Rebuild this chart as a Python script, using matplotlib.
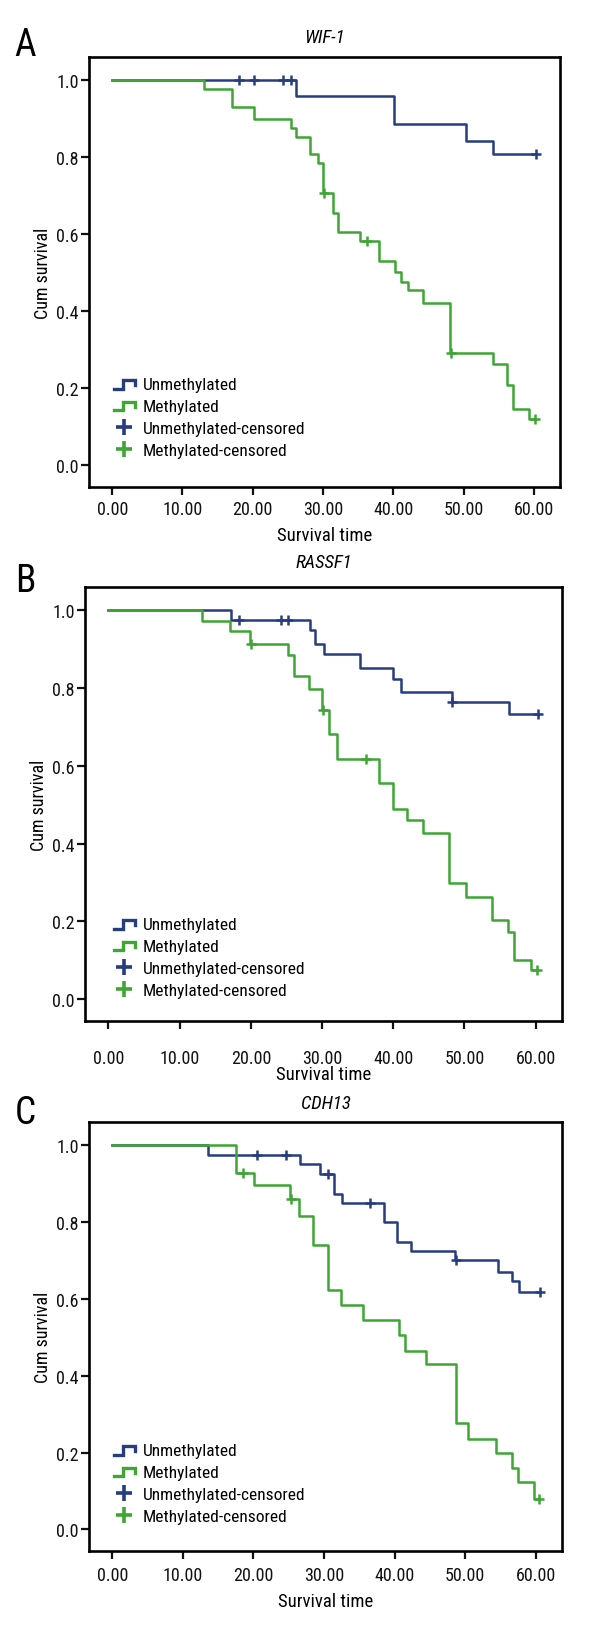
"""Kaplan-Meier survival curves for WIF-1, RASSF1 and CDH13 methylation."""

import matplotlib

matplotlib.use("Agg")

import matplotlib.pyplot as plt
import numpy as np
from matplotlib import font_manager
from matplotlib.legend_handler import HandlerBase
from matplotlib.lines import Line2D

BLUE = "#283c80"
GREEN = "#3fa535"

# ---- data (time in months, cumulative survival) ----
PANELS = ["A", "B", "C"]
GENES = ["WIF-1", "RASSF1", "CDH13"]
X_TICKS = [0, 10, 20, 30, 40, 50, 60]
Y_TICKS = [0.0, 0.2, 0.4, 0.6, 0.8, 1.0]
LEGEND_LABELS = ["Unmethylated", "Methylated",
                 "Unmethylated-censored", "Methylated-censored"]

A_UNMETH_T = [26.2, 40.1, 50.3, 54.2]
A_UNMETH_S = [0.959, 0.885, 0.843, 0.807]
A_UNMETH_CENS = [18.1, 20.2, 24.3, 25.4, 60.3]
A_METH_T = [13.1, 17.0, 20.2, 25.4, 26.1, 28.1, 29.3, 30.0, 31.4, 32.1, 35.2,
            38.0, 40.2, 41.1, 42.1, 44.2, 48.1, 54.2, 56.2, 57.0, 59.3]
A_METH_S = [0.977, 0.929, 0.899, 0.875, 0.852, 0.809, 0.785, 0.707, 0.656,
            0.606, 0.582, 0.530, 0.503, 0.477, 0.454, 0.421, 0.292, 0.264,
            0.209, 0.147, 0.120]
A_METH_CENS = [30.1, 36.2, 48.2, 60.1]

B_UNMETH_T = [17.2, 28.3, 29.0, 30.2, 35.3, 40.0, 41.1, 48.2, 56.2]
B_UNMETH_S = [0.974, 0.949, 0.914, 0.887, 0.851, 0.823, 0.791, 0.764, 0.734]
B_UNMETH_CENS = [18.3, 24.3, 25.2, 48.3, 60.3]
B_METH_T = [13.2, 17.1, 19.9, 25.2, 26.1, 28.2, 30.0, 31.0, 32.1, 38.0, 39.9,
            41.9, 44.2, 47.8, 50.2, 53.9, 56.1, 57.0, 59.3]
B_METH_S = [0.972, 0.946, 0.914, 0.885, 0.831, 0.797, 0.745, 0.683, 0.617,
            0.557, 0.489, 0.460, 0.427, 0.298, 0.264, 0.204, 0.174, 0.100,
            0.074]
B_METH_CENS = [20.0, 30.1, 36.2, 60.2]

C_UNMETH_T = [13.5, 26.6, 29.4, 31.4, 32.5, 38.5, 40.3, 42.3, 48.6, 54.6,
              56.6, 57.6]
C_UNMETH_S = [0.974, 0.950, 0.924, 0.872, 0.849, 0.799, 0.747, 0.724, 0.700,
              0.671, 0.647, 0.619]
C_UNMETH_CENS = [20.5, 24.6, 30.5, 36.5, 48.7, 60.6]
C_METH_T = [17.5, 20.1, 25.2, 26.4, 28.4, 30.6, 32.4, 35.5, 40.6, 41.5, 44.5,
            48.7, 50.4, 54.4, 56.6, 57.4, 59.7]
C_METH_S = [0.927, 0.897, 0.860, 0.815, 0.739, 0.622, 0.584, 0.546, 0.506,
            0.464, 0.431, 0.278, 0.235, 0.198, 0.160, 0.123, 0.078]
C_METH_CENS = [18.5, 25.3, 60.4]


def _pick_font():
    fonts = font_manager.fontManager.ttflist
    names = {f.name for f in fonts}
    for n in ["Roboto Condensed", "Liberation Sans Narrow", "Open Sans Condensed",
              "Noto Sans Condensed", "DejaVu Sans Condensed"]:
        if n in names:
            return n, "normal"
    for fam in ["Noto Sans", "Open Sans", "Roboto", "DejaVu Sans"]:
        for f in fonts:
            if f.name == fam and f.stretch in ("condensed", "semi-condensed",
                                                "extra-condensed"):
                return fam, f.stretch
    return "DejaVu Sans", "normal"


FONT, STRETCH = _pick_font()
plt.rcParams["font.family"] = FONT
plt.rcParams["font.stretch"] = STRETCH


class StepHandler(HandlerBase):
    """Legend icon drawn as a small step, like SPSS survival plots."""

    def create_artists(self, legend, orig_handle, xdescent, ydescent, width,
                       height, fontsize, trans):
        x0, y0 = -xdescent, -ydescent
        xs = [x0, x0 + 0.45 * width, x0 + 0.45 * width, x0 + width, x0 + width]
        ys = [y0 + 0.05 * height, y0 + 0.05 * height, y0 + 0.75 * height,
              y0 + 0.75 * height, y0 + 0.35 * height]
        line = Line2D(xs, ys, color=orig_handle.get_color(), lw=2.4,
                      solid_joinstyle="miter", transform=trans)
        return [line]


def _km(ax, drop_t, drop_s, cens_t, color, z):
    drop_t = np.asarray(drop_t)
    drop_s = np.asarray(drop_s)
    cens_t = np.asarray(cens_t)
    t = np.concatenate([[0.0], drop_t, [cens_t.max()]])
    s = np.concatenate([[1.0], drop_s, [drop_s[-1]]])
    ax.step(t, s, where="post", color=color, lw=1.8, zorder=z)
    level = np.concatenate([[1.0], drop_s])[np.searchsorted(drop_t, cens_t,
                                                            side="right")]
    ax.plot(cens_t, level, "+", color=color, ms=7, mew=1.8, zorder=z)


# pixel layout of the three panels (left, top, right, bottom)
BOXES = [(89, 58, 560, 488), (85, 588, 562, 1022), (89, 1123, 562, 1552)]
XTICK_PAD = [4, 15, 5]
XLABEL_Y = [536, 1075, 1602]
TITLE_Y = [38, 563, 1104]
LETTER_Y = [46, 581, 1113]
LEGEND_TOP = [378, 918, 1444]
W, H = 600, 1640

fig = plt.figure(figsize=(W / 100, H / 100), dpi=100)
fig.patch.set_facecolor("white")

series = [
    (A_UNMETH_T, A_UNMETH_S, A_UNMETH_CENS, A_METH_T, A_METH_S, A_METH_CENS),
    (B_UNMETH_T, B_UNMETH_S, B_UNMETH_CENS, B_METH_T, B_METH_S, B_METH_CENS),
    (C_UNMETH_T, C_UNMETH_S, C_UNMETH_CENS, C_METH_T, C_METH_S, C_METH_CENS),
]

for i, (ut, us, uc, mt, ms, mc) in enumerate(series):
    l, t, r, b = BOXES[i]
    ax = fig.add_axes([l / W, 1 - b / H, (r - l) / W, (b - t) / H])
    _km(ax, ut, us, uc, BLUE, 2)
    _km(ax, mt, ms, mc, GREEN, 3)

    ax.set_xlim(-3.3, 63.7)
    ax.set_ylim(-0.056, 1.06)
    ax.set_xticks(X_TICKS)
    ax.set_xticklabels([f"{v:.2f}" for v in X_TICKS])
    ax.set_yticks(Y_TICKS)
    ax.set_yticklabels([f"{v:.1f}" for v in Y_TICKS])
    for sp in ax.spines.values():
        sp.set_linewidth(1.9)
    ax.tick_params(axis="both", direction="out", length=5.5, width=1.6,
                   labelsize=13, colors="#111111")
    ax.tick_params(axis="x", pad=XTICK_PAD[i])
    ax.tick_params(axis="y", pad=2)

    ax.set_ylabel("Cum survival", fontsize=13, labelpad=3)
    ax.set_xlabel("Survival time", fontsize=13.5, va="center")
    ax.xaxis.set_label_coords(0.5, (b - XLABEL_Y[i]) / (b - t))

    fig.text(((l + r) / 2) / W, 1 - TITLE_Y[i] / H, GENES[i], fontsize=13.5,
             style="italic", ha="center", va="center")
    fig.text(25 / W, 1 - LETTER_Y[i] / H, PANELS[i], fontsize=27,
             ha="center", va="center")

    handles = [Line2D([], [], color=BLUE), Line2D([], [], color=GREEN),
               Line2D([], [], color=BLUE, marker="+", ls="none", ms=12, mew=2.6),
               Line2D([], [], color=GREEN, marker="+", ls="none", ms=12, mew=2.6)]
    ax.legend(handles, LEGEND_LABELS, loc="upper left",
              bbox_to_anchor=((114 - l) / (r - l),
                              (b - LEGEND_TOP[i]) / (b - t)),
              frameon=False, fontsize=12.5, borderpad=0, borderaxespad=0,
              handlelength=1.2, handletextpad=0.45, labelspacing=0.39,
              handler_map={handles[0]: StepHandler(),
                           handles[1]: StepHandler()})

fig.savefig("out.png", dpi=100, facecolor="white")
